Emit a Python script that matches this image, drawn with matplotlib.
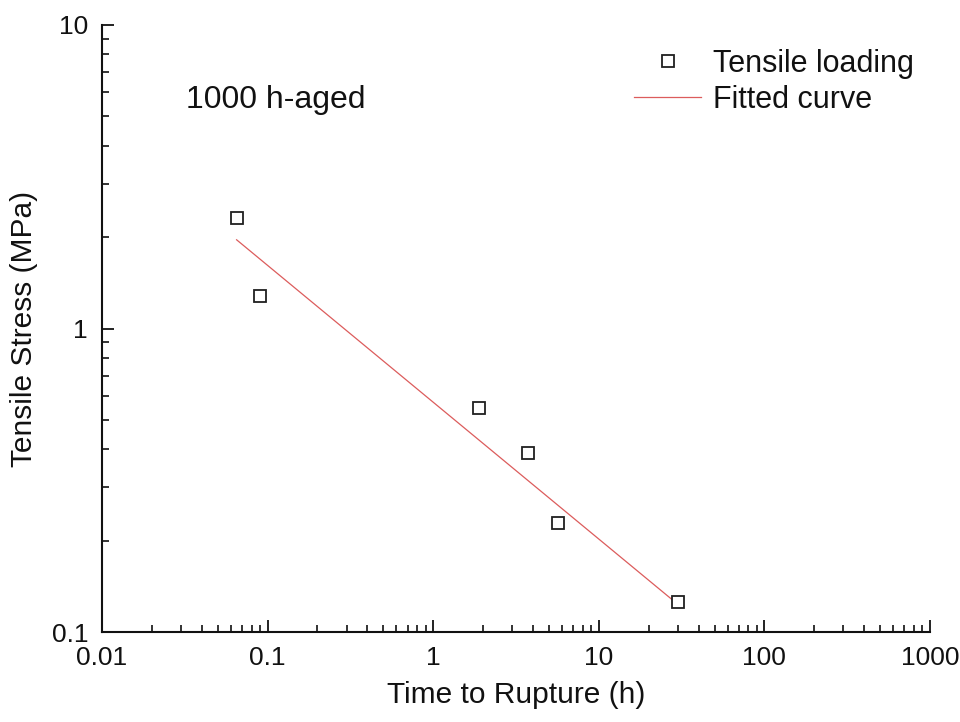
import matplotlib
matplotlib.use("Agg")
import matplotlib.pyplot as plt
from matplotlib.ticker import LogLocator, NullFormatter, FixedLocator, FixedFormatter

plt.rcParams['font.family'] = ['Liberation Sans', 'DejaVu Sans']

# Rupture tests after 1000 h ageing
rupture_time_h = [0.0653, 0.090, 1.89, 3.72, 5.65, 30.2]
tensile_stress_mpa = [2.31, 1.28, 0.547, 0.389, 0.228, 0.126]

# Power-law fit end points
fit_time_h = [0.065, 30.2]
fit_stress_mpa = [1.96, 0.123]

x_ticks = [0.01, 0.1, 1, 10, 100, 1000]
x_tick_labels = ["0.01", "0.1", "1", "10", "100", "1000"]
y_ticks = [0.1, 1, 10]
y_tick_labels = ["0.1", "1", "10"]

fig = plt.figure(figsize=(9.6, 7.22), dpi=100)
ax = fig.add_axes([102 / 960, 1 - 632 / 722, (930 - 102) / 960, (632 - 25) / 722])

ax.plot(fit_time_h, fit_stress_mpa, color='#dc5c5c', lw=0.9, label='Fitted curve', zorder=2)
ax.plot(rupture_time_h, tensile_stress_mpa, ls='none', marker='s', ms=8.5,
        mfc='white', mec='#202020', mew=1.3, label='Tensile loading', zorder=3)

ax.set_xscale('log')
ax.set_yscale('log')
ax.set_xlim(0.01, 1000)
ax.set_ylim(0.1, 10)

ax.xaxis.set_major_locator(FixedLocator(x_ticks))
ax.xaxis.set_major_formatter(FixedFormatter(x_tick_labels))
ax.yaxis.set_major_locator(FixedLocator(y_ticks))
ax.yaxis.set_major_formatter(FixedFormatter(y_tick_labels))
ax.xaxis.set_minor_locator(LogLocator(base=10, subs=range(2, 10), numticks=20))
ax.yaxis.set_minor_locator(LogLocator(base=10, subs=range(2, 10), numticks=20))
ax.xaxis.set_minor_formatter(NullFormatter())
ax.yaxis.set_minor_formatter(NullFormatter())

for side in ('top', 'right'):
    ax.spines[side].set_visible(False)
for side in ('left', 'bottom'):
    ax.spines[side].set_linewidth(1.5)
    ax.spines[side].set_color('#111111')

ax.tick_params(which='major', direction='in', length=8.5, width=1.3, labelsize=19,
               pad=10, colors='#111111')
ax.tick_params(which='minor', direction='in', length=4.8, width=1.2, colors='#111111')

ax.set_xlabel('Time to Rupture (h)', fontsize=21.5, labelpad=8, color='#111111')
ax.set_ylabel('Tensile Stress (MPa)', fontsize=21.5, labelpad=10, color='#111111')

ax.text(0.102, 0.877, '1000 h-aged', transform=ax.transAxes, fontsize=23,
        color='#111111', va='center', ha='left')

handles, labels = ax.get_legend_handles_labels()
leg = ax.legend(handles[::-1], labels[::-1], loc='upper left',
                bbox_to_anchor=(634 / 960, 1 - 49 / 722), bbox_transform=fig.transFigure,
                frameon=False, fontsize=22, borderpad=0, borderaxespad=0,
                handlelength=2.2, handletextpad=0.4, labelspacing=0.18)
for t in leg.get_texts():
    t.set_color('#111111')

fig.savefig('out.png', dpi=100, facecolor='white')
